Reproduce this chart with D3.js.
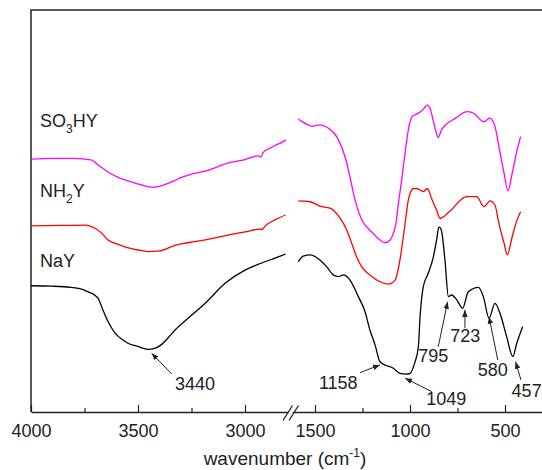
<!DOCTYPE html>
<html>
<head>
<meta charset="utf-8">
<script src="https://cdn.jsdelivr.net/npm/d3@7"></script>
<style>
  body { margin: 0; background: #fff; }
  text { font-family: "Liberation Sans", Arial, sans-serif; fill: #222; }
</style>
</head>
<body>
<div id="chart"></div>
<script>
// FTIR spectra: [wavenumber (cm-1), transmittance (a.u.)]
// high range (4000-2800) and low range (1600-400) are drawn on a broken axis
const so3hyHigh = [[4000,62.9],[3900,63.1],[3800,63.1],[3720,62.7],[3680,61.2],[3640,59.7],[3590,58.3],
  [3547,57.5],[3485,56.5],[3430,55.9],[3390,56.3],[3340,57.3],[3300,58.3],[3240,59.3],[3187,59.9],
  [3080,61.9],[3000,62.8],[2940,63.7],[2925,63.4],[2915,64.6],[2880,65.7],[2860,66.3],[2830,67.0],[2810,67.7]];
const so3hyLow = [[1588,72.9],[1562,72.1],[1540,71.5],[1517,71.1],[1474,71.4],[1440,70.9],[1421,70.3],
  [1400,69.4],[1377,67.7],[1342,63.5],[1316,58.5],[1289,52.7],[1254,47.8],[1202,44.8],[1158,42.8],
  [1132,42.1],[1105,42.8],[1085,44.8],[1074,46.9],[1062,51.5],[1044,57.7],[1026,64.4],[1004,71.4],
  [989,73.4],[974,73.9],[945,74.7],[925,75.6],[910,76.4],[895,75.6],[883,73.5],[865,70.1],[852,68.3],
  [835,70.1],[813,71.4],[760,73.1],[699,74.7],[660,74.2],[646,73.5],[611,72.2],[581,73.1],[558,71.8],
  [545,69.4],[532,66.0],[505,59.4],[484,55.0],[462,59.4],[436,65.2],[418,68.5]];

const nh2yHigh = [[4000,46.3],[3850,46.4],[3748,46.5],[3701,45.7],[3670,44.5],[3640,42.8],[3600,41.8],
  [3561,41.1],[3500,40.3],[3453,39.9],[3406,40.0],[3370,40.5],[3346,41.1],[3290,41.9],[3234,42.4],
  [3150,43.2],[3080,44.0],[3000,44.8],[2930,45.5],[2920,45.4],[2905,46.3],[2860,47.8],[2810,49.0]];
const nh2yLow = [[1588,52.5],[1526,52.3],[1474,51.2],[1421,50.7],[1368,48.2],[1333,45.3],[1307,42.0],
  [1281,38.6],[1254,36.1],[1211,34.1],[1158,32.4],[1114,31.8],[1079,32.8],[1053,37.8],[1035,43.6],
  [1020,49.0],[1009,52.7],[982,55.6],[968,55.6],[945,55.2],[930,54.8],[910,55.6],[883,52.7],[860,50.2],
  [842,48.2],[789,50.0],[702,53.6],[649,53.6],[611,51.1],[579,52.5],[553,51.5],[532,46.9],[505,42.0],
  [488,39.1],[462,43.6],[440,47.3],[418,49.8]];

const nayHigh = [[4000,31.4],[3900,31.3],[3813,31.0],[3760,30.5],[3734,29.9],[3700,29.0],[3687,28.3],
  [3664,25.4],[3640,22.5],[3607,19.6],[3570,17.9],[3547,17.1],[3500,16.3],[3453,15.6],[3430,15.7],
  [3392,16.7],[3360,18.4],[3327,20.4],[3266,23.3],[3187,27.0],[3093,32.0],[3000,35.3],[2925,37.0],
  [2860,38.3],[2810,39.3]];
const nayLow = [[1588,37.4],[1562,38.8],[1526,39.1],[1474,37.8],[1438,36.1],[1404,34.1],[1377,33.7],
  [1351,34.1],[1316,32.8],[1272,28.7],[1237,25.0],[1211,20.4],[1184,16.7],[1158,12.5],[1132,11.7],
  [1088,10.9],[1053,9.6],[1018,9.4],[1000,9.6],[974,12.4],[956,16.2],[947,23.7],[930,31.2],[904,34.5],
  [877,38.6],[860,42.8],[848,46.0],[840,45.8],[833,44.8],[816,37.8],[798,28.7],[781,29.1],[754,27.9],
  [723,25.8],[693,29.9],[640,31.0],[614,28.7],[584,23.3],[553,27.0],[526,24.5],[491,18.7],[459,13.8],
  [438,17.1],[407,21.2]];

// sample names (main text + subscript + rest), colours
const sampleNames = [["SO", "3", "HY"], ["NH", "2", "Y"], ["NaY", "", ""]];
const sampleColors = ["#ff00ff", "#ff0000", "#000000"];
const sampleData = [[so3hyHigh, so3hyLow], [nh2yHigh, nh2yLow], [nayHigh, nayLow]];
const labelLevels = [71, 53.5, 36]; // transmittance at the name label baseline

// ticks on the two axis pieces
const highMajor = [4000, 3500, 3000];
const highMinor = [3750, 3250];
const lowMajor = [1500, 1000, 500];
const lowMinor = [1250, 750];

// band assignments: label, arrow tip [wavenumber, transmittance]
const bands = [
  { label: "3440", wn: 3436, t: 14.6 },
  { label: "1158", wn: 1158, t: 11.7 },
  { label: "1049", wn: 1026, t: 8.4 },
  { label: "795", wn: 802, t: 27.4 },
  { label: "723", wn: 711, t: 25.4 },
  { label: "580", wn: 584, t: 23.7 },
  { label: "457", wn: 444, t: 12.5 }
];

const margin = { top: 10, right: 0, bottom: 58, left: 31 };
const width = 542 - margin.left - margin.right;
const height = 470 - margin.top - margin.bottom;

const svg = d3.select("#chart").append("svg")
  .attr("width", 542)
  .attr("height", 470)
  .append("g")
  .attr("transform", `translate(${margin.left},${margin.top})`);

// two x scales for the broken axis
const xHigh = d3.scaleLinear().domain([4000, 2800]).range([0, 256.8]);
const xLow = d3.scaleLinear().domain([1620, 300]).range([261.2, 512]);
const y = d3.scaleLinear().domain([0, 100]).range([height, 0]);
const xOf = wn => (wn > 2000 ? xHigh(wn) : xLow(wn));

// frame: left and top
svg.append("path")
  .attr("d", `M0,${height}V0H${width + 5}`)
  .attr("fill", "none")
  .attr("stroke", "#222")
  .attr("stroke-width", 1.5);

// x axes
function drawAxis(scale, major, minor) {
  const g = svg.append("g").attr("transform", `translate(0,${height})`);
  g.call(d3.axisBottom(scale).tickValues(major).tickSizeInner(-7).tickSizeOuter(0)
    .tickPadding(12).tickFormat(d3.format("d")));
  g.select(".domain").attr("stroke", "#222").attr("stroke-width", 1.5);
  g.selectAll(".tick line").attr("stroke", "#222").attr("stroke-width", 1.2);
  g.selectAll(".tick text").style("font-size", "18px").attr("fill", "#222");
  const m = svg.append("g").attr("transform", `translate(0,${height})`);
  m.call(d3.axisBottom(scale).tickValues(minor).tickSizeInner(-4).tickSizeOuter(0).tickFormat(""));
  m.select(".domain").remove();
  m.selectAll(".tick line").attr("stroke", "#222").attr("stroke-width", 1.2);
}
drawAxis(xHigh, highMajor, highMinor);
drawAxis(xLow, lowMajor, lowMinor);

// break marks
[252, 258].forEach(x0 => {
  svg.append("line")
    .attr("x1", x0).attr("y1", height + 8.5)
    .attr("x2", x0 + 9.5).attr("y2", height - 6.5)
    .attr("stroke", "#222").attr("stroke-width", 1.3);
});

// x-axis label
const xt = svg.append("text")
  .attr("x", 254)
  .attr("y", height + 53)
  .attr("text-anchor", "middle")
  .style("font-size", "19px");
xt.append("tspan").text("wavenumber (cm");
xt.append("tspan").attr("dy", -8).style("font-size", "12px").text("-1");
xt.append("tspan").attr("dy", 8).text(")");

// spectra
const line = d3.line()
  .x(d => xOf(d[0]))
  .y(d => y(d[1]))
  .curve(d3.curveMonotoneX);

sampleData.forEach((segments, i) => {
  segments.forEach(seg => {
    svg.append("path")
      .datum(seg)
      .attr("fill", "none")
      .attr("stroke", sampleColors[i])
      .attr("stroke-width", 1.3)
      .attr("d", line);
  });

  const name = sampleNames[i];
  const t = svg.append("text")
    .attr("x", 9)
    .attr("y", y(labelLevels[i]))
    .style("font-size", "18px");
  t.append("tspan").text(name[0]);
  if (name[1]) {
    t.append("tspan").attr("dy", 6).style("font-size", "12px").text(name[1]);
    t.append("tspan").attr("dy", -6).text(name[2]);
  }
});

// arrow head
svg.append("defs").append("marker")
  .attr("id", "head")
  .attr("viewBox", "0 0 10 10")
  .attr("refX", 10).attr("refY", 5)
  .attr("markerWidth", 7).attr("markerHeight", 7)
  .attr("markerUnits", "userSpaceOnUse")
  .attr("orient", "auto")
  .append("path")
  .attr("d", "M0,1L10,5L0,9Z")
  .attr("fill", "#222");

// where the arrow tail and text sit relative to the tip
const bandLayout = {
  "3440": { ax: 20, ay: 20.7, tx: 43.3, ty: 36.7 },
  "1158": { ax: -20, ay: 7.7, tx: -41.7, ty: 24 },
  "1049": { ax: 26.7, ay: 13.4, tx: 41.3, ty: 26.7 },
  "795": { ax: -9.4, ay: 45, tx: -14.4, ty: 60 },
  "723": { ax: 0, ay: 18, tx: 0.3, ty: 32.3 },
  "580": { ax: 8.7, ay: 43.3, tx: 3.8, ty: 59.3 },
  "457": { ax: 5.3, ay: 18.3, tx: 11, ty: 35 }
};

bands.forEach(b => {
  const px = xOf(b.wn), py = y(b.t);
  const L = bandLayout[b.label];
  svg.append("line")
    .attr("x1", px + L.ax).attr("y1", py + L.ay)
    .attr("x2", px).attr("y2", py)
    .attr("stroke", "#222")
    .attr("stroke-width", 1)
    .attr("marker-end", "url(#head)");
  svg.append("text")
    .attr("x", px + L.tx)
    .attr("y", py + L.ty)
    .attr("text-anchor", "middle")
    .style("font-size", "18px")
    .text(b.label);
});
</script>
</body>
</html>
